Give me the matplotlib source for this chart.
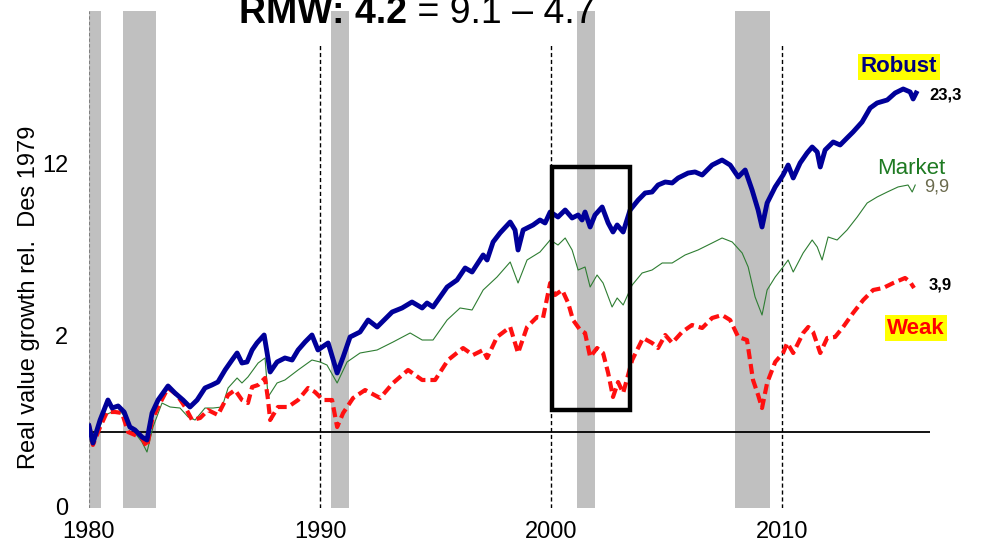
import matplotlib
matplotlib.use("Agg")
import matplotlib.pyplot as plt
from matplotlib.patches import Rectangle

plt.rcParams['font.family'] = ['Liberation Sans', 'DejaVu Sans']

# ---------------- data ----------------
robust_t = [1980.00, 1980.17, 1980.48, 1980.82, 1981.00, 1981.26, 1981.52, 1981.77, 1981.99, 1982.29,
            1982.51, 1982.73, 1982.99, 1983.42, 1983.72, 1984.07, 1984.37, 1984.68, 1985.02, 1985.32,
            1985.58, 1985.89, 1986.19, 1986.41, 1986.62, 1986.84, 1987.06, 1987.27, 1987.58, 1987.71,
            1987.84, 1988.14, 1988.48, 1988.79, 1989.05, 1989.35, 1989.65, 1989.91, 1990.22, 1990.35,
            1990.74, 1991.00, 1991.30, 1991.73, 1992.08, 1992.47, 1993.12, 1993.55, 1993.98, 1994.42,
            1994.63, 1994.89, 1995.50, 1995.93, 1996.28, 1996.58, 1997.06, 1997.23, 1997.49, 1997.79,
            1998.23, 1998.44, 1998.57, 1998.79, 1999.22, 1999.52, 1999.74, 1999.96, 2000.30, 2000.61,
            2000.91, 2001.17, 2001.34, 2001.47, 2001.69, 2001.90, 2002.21, 2002.47, 2002.68, 2002.86,
            2003.12, 2003.42, 2003.77, 2004.07, 2004.37, 2004.63, 2004.94, 2005.24, 2005.50, 2005.93,
            2006.23, 2006.54, 2006.97, 2007.40, 2007.75, 2008.10, 2008.40, 2008.70, 2008.96, 2009.13,
            2009.35, 2009.70, 2010.04, 2010.26, 2010.48, 2010.78, 2011.08, 2011.30, 2011.52, 2011.65,
            2011.86, 2012.21, 2012.51, 2012.81, 2013.07, 2013.46, 2013.81, 2014.11, 2014.55, 2014.89,
            2015.24, 2015.54, 2015.67, 2015.80]
robust_v = [1.057, 0.903, 1.117, 1.344, 1.248, 1.272, 1.203, 1.047, 1.019, 0.955,
            0.929, 1.192, 1.344, 1.530, 1.434, 1.344, 1.260, 1.344, 1.502, 1.544,
            1.587, 1.774, 1.945, 2.075, 1.892, 1.910, 2.134, 2.277, 2.451, 2.075,
            1.741, 1.910, 1.982, 1.945, 2.134, 2.297, 2.451, 2.134, 2.235, 2.277,
            1.725, 2.000, 2.406, 2.520, 2.815, 2.639, 3.031, 3.146, 3.325, 3.146,
            3.294, 3.175, 3.819, 4.074, 4.553, 4.387, 5.134, 4.902, 5.790, 6.292,
            6.964, 6.468, 5.377, 6.468, 6.774, 7.095, 6.902, 7.638, 7.294, 7.781,
            7.227, 7.430, 7.095, 7.638, 6.650, 7.430, 8.000, 6.902, 6.350, 6.774,
            6.350, 7.781, 8.534, 9.106, 9.190, 9.803, 10.08, 9.990, 10.46, 10.95,
            11.06, 10.75, 11.79, 12.35, 11.79, 10.56, 11.26, 9.360, 7.781, 6.650,
            8.300, 9.630, 10.75, 11.79, 10.46, 12.02, 13.18, 13.93, 13.30, 11.58,
            13.55, 14.59, 14.19, 15.14, 16.00, 17.55, 19.97, 20.92, 21.51, 22.94,
            23.81, 23.16, 21.71, 22.94]

market_t = [1980.00, 1980.17, 1980.69, 1981.00, 1981.43, 1981.99, 1982.29, 1982.51, 1982.77, 1983.16,
            1983.51, 1983.94, 1984.29, 1984.59, 1985.02, 1985.37, 1985.76, 1986.02, 1986.41, 1986.62,
            1986.88, 1987.32, 1987.62, 1987.75, 1988.14, 1988.48, 1989.05, 1989.65, 1990.00, 1990.30,
            1990.74, 1991.17, 1991.73, 1992.47, 1993.16, 1993.90, 1994.42, 1994.89, 1995.50, 1996.06,
            1996.58, 1997.06, 1997.66, 1998.23, 1998.57, 1998.96, 1999.52, 1999.96, 2000.30, 2000.61,
            2000.91, 2001.17, 2001.47, 2001.69, 2001.99, 2002.25, 2002.64, 2002.86, 2003.12, 2003.51,
            2003.94, 2004.37, 2004.81, 2005.24, 2005.80, 2006.36, 2006.97, 2007.40, 2007.84, 2008.27,
            2008.53, 2008.83, 2009.13, 2009.35, 2009.70, 2010.04, 2010.26, 2010.48, 2010.91, 2011.30,
            2011.52, 2011.73, 2011.99, 2012.38, 2012.81, 2013.25, 2013.68, 2014.11, 2014.55, 2015.02,
            2015.45, 2015.63, 2015.76]
market_v = [1.057, 0.912, 1.170, 1.203, 1.192, 0.991, 0.912, 0.831, 1.047, 1.307,
            1.260, 1.248, 1.149, 1.117, 1.248, 1.248, 1.260, 1.502, 1.647, 1.573,
            1.663, 1.892, 1.982, 1.382, 1.573, 1.617, 1.774, 1.945, 1.910, 1.857,
            1.573, 1.910, 2.075, 2.134, 2.297, 2.497, 2.340, 2.340, 2.815, 3.146,
            3.088, 3.715, 4.189, 4.812, 3.963, 4.902, 5.278, 5.897, 5.630, 6.007,
            5.377, 4.469, 4.595, 3.819, 4.267, 3.963, 3.175, 3.450, 3.234, 3.891,
            4.347, 4.469, 4.768, 4.768, 5.134, 5.377, 5.736, 6.007, 5.790, 5.230,
            4.595, 3.482, 2.948, 3.715, 4.189, 4.595, 4.902, 4.387, 5.230, 5.897,
            5.528, 4.902, 6.063, 5.897, 6.468, 7.294, 8.300, 8.774, 9.190, 9.630,
            9.803, 9.190, 9.800]

weak_t = [1980.00, 1980.17, 1980.48, 1980.78, 1981.13, 1981.43, 1981.69, 1981.99, 1982.29, 1982.51,
          1982.73, 1982.99, 1983.42, 1983.81, 1984.16, 1984.46, 1984.81, 1985.15, 1985.58, 1986.02,
          1986.32, 1986.62, 1986.88, 1987.06, 1987.32, 1987.62, 1987.75, 1987.84, 1988.18, 1988.61,
          1989.05, 1989.48, 1989.78, 1990.13, 1990.52, 1990.74, 1991.00, 1991.43, 1991.95, 1992.60,
          1993.16, 1993.81, 1994.42, 1994.98, 1995.54, 1996.19, 1996.62, 1997.06, 1997.23, 1997.66,
          1998.23, 1998.57, 1998.96, 1999.39, 1999.65, 1999.96, 2000.17, 2000.48, 2000.74, 2000.95,
          2001.26, 2001.47, 2001.69, 2001.99, 2002.25, 2002.47, 2002.68, 2002.90, 2003.12, 2003.51,
          2003.98, 2004.37, 2004.63, 2004.94, 2005.24, 2005.67, 2006.10, 2006.54, 2006.97, 2007.40,
          2007.75, 2008.10, 2008.48, 2008.74, 2008.96, 2009.13, 2009.35, 2009.70, 2010.04, 2010.22,
          2010.48, 2010.91, 2011.13, 2011.34, 2011.65, 2011.95, 2012.29, 2012.64, 2013.07, 2013.51,
          2013.94, 2014.37, 2014.81, 2015.32, 2015.54, 2015.71]
weak_v = [1.067, 0.887, 1.047, 1.203, 1.203, 1.192, 1.000, 0.973, 0.946, 0.871,
          1.117, 1.260, 1.502, 1.408, 1.260, 1.117, 1.138, 1.225, 1.170, 1.408,
          1.474, 1.344, 1.307, 1.516, 1.544, 1.647, 1.344, 1.117, 1.260, 1.260,
          1.344, 1.502, 1.447, 1.344, 1.344, 1.047, 1.192, 1.369, 1.474, 1.369,
          1.573, 1.774, 1.617, 1.617, 1.945, 2.173, 2.037, 2.134, 1.982, 2.406,
          2.639, 2.075, 2.639, 2.894, 2.868, 3.963, 3.547, 3.715, 3.294, 2.815,
          2.567, 2.497, 2.000, 2.173, 2.075, 1.725, 1.382, 1.587, 1.434, 1.945,
          2.384, 2.277, 2.173, 2.451, 2.277, 2.520, 2.688, 2.615, 2.868, 2.948,
          2.815, 2.406, 2.340, 1.617, 1.408, 1.248, 1.573, 1.910, 2.075, 2.277,
          2.075, 2.497, 2.639, 2.520, 2.075, 2.384, 2.406, 2.639, 3.003, 3.387,
          3.715, 3.784, 3.963, 4.151, 4.000, 3.784]

recessions = [(1980.0, 1980.52), (1981.47, 1982.9), (1990.48, 1991.26), (2001.12, 2001.9), (2007.97, 2009.48)]
decade_lines = [1990, 2000, 2010]
x_ticks = [1980, 1990, 2000, 2010]
y_ticks = [0.5, 2.45, 12.0]
y_ticklabels = ['0', '2', '12']
highlight_box = (2000.04, 2003.42, 1.225, 11.58)
final_labels = {'Robust': '23,3', 'Market': '9,9', 'Weak': '3,9'}

# ---------------- figure ----------------
W, H = 987, 549
fig = plt.figure(figsize=(W / 100, H / 100), dpi=100)
ax = fig.add_axes([89 / W, 1 - 508 / H, (930 - 89) / W, (508 - 11) / H])
ax.set_yscale('log')
ax.set_xlim(1980, 2016.4)
ax.set_ylim(0.4954, 48.95)

for a, b in recessions:
    ax.axvspan(a, b, color='#c0c0c0', lw=0, zorder=0)

ax.axvline(1980, color='#808080', ls=(0, (3, 2)), lw=0.8, zorder=1)
for x in decade_lines:
    ax.plot([x, x], [0.4954, 36.4], color='black', ls=(0, (3, 2)), lw=1.0, zorder=1)

ax.axhline(1.0, color='black', lw=1.3, zorder=2)

ax.plot(market_t, market_v, color='#2e7d32', lw=0.8, zorder=3)
ax.plot(weak_t, weak_v, color='#ff1010', lw=3.0, ls=(0, (2.4, 1.2)), zorder=4)
ax.plot(robust_t, robust_v, color='#000099', lw=3.5, zorder=5)

x0, x1, y0, y1 = highlight_box
ax.add_patch(Rectangle((x0, y0), x1 - x0, y1 - y0, fill=False, ec='black', lw=3.2, zorder=6))

for s in ax.spines.values():
    s.set_visible(False)
ax.set_xticks(x_ticks)
ax.set_xticklabels([str(t) for t in x_ticks])
ax.set_yticks(y_ticks)
ax.set_yticklabels(y_ticklabels)
ax.yaxis.set_minor_locator(matplotlib.ticker.NullLocator())
ax.tick_params(axis='both', length=0, labelsize=17)
ax.tick_params(axis='x', pad=9)
ax.tick_params(axis='y', pad=15)

fig.text(29 / W, 1 - 297 / H, 'Real value growth rel.  Des 1979', fontsize=17, rotation=90,
         ha='center', va='center')

# series labels
def px2data(px, py):
    return ax.transData.inverted().transform(
        fig.transFigure.transform((px / W, 1 - py / H)))

tx, ty = px2data(899, 67)
ax.text(tx, ty, 'Robust', color='#000080', fontsize=16, fontweight='bold', ha='center', va='center',
        bbox=dict(boxstyle='square,pad=0.12', fc='#ffff00', ec='none'), zorder=7)
tx, ty = px2data(946, 95)
ax.text(tx, ty, final_labels['Robust'], color='black', fontsize=12, fontweight='bold', ha='center', va='center', clip_on=False)
tx, ty = px2data(911, 169)
ax.text(tx, ty, 'Market', color='#1e7a22', fontsize=16, ha='center', va='center', zorder=7)
tx, ty = px2data(937, 187)
ax.text(tx, ty, final_labels['Market'], color='#6b6b4e', fontsize=13, ha='center', va='center', clip_on=False)
tx, ty = px2data(940, 285)
ax.text(tx, ty, final_labels['Weak'], color='black', fontsize=12, fontweight='bold', ha='center', va='center', clip_on=False)
tx, ty = px2data(916, 328)
ax.text(tx, ty, 'Weak', color='#ff0000', fontsize=16, fontweight='bold', ha='center', va='center',
        bbox=dict(boxstyle='square,pad=0.12', fc='#ffff00', ec='none'), zorder=7)

# title (cut off at the top edge, as in the reference)
fig.text(407 / W, 1 - 23 / H, 'RMW: 4.2', fontsize=27, fontweight='bold', ha='right', va='baseline')
fig.text(407 / W, 1 - 23 / H, ' = 9.1 \u2013 4.7', fontsize=27, ha='left', va='baseline')

fig.savefig('out.png', dpi=100)
